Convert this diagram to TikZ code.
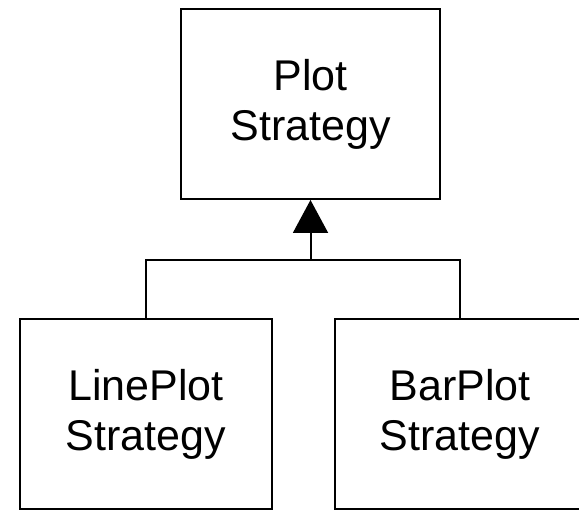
\documentclass[tikz,border=0pt]{standalone}
\usepackage{fontspec}
\setmainfont{Liberation Sans}
\usetikzlibrary{arrows.meta}
\begin{document}
\begin{tikzpicture}[x=1pt,y=-1pt,
  classbox/.style={draw=black, line width=2pt, fill=white, inner sep=0pt,
    minimum height=190pt, align=center,
    font=\fontsize{43}{50}\selectfont},
  link/.style={draw=black, line width=2pt}]
  \useasboundingbox (0,0) rectangle (579,510);
  \clip (0,0) rectangle (579,510);
  % parent strategy
  \node[classbox, minimum width=259pt] (plot) at (310.5,104) {Plot\\Strategy};
  % concrete strategies
  \node[classbox, minimum width=252pt] (line) at (146,414) {LinePlot\\Strategy};
  \node[classbox, minimum width=250pt] (bar) at (460,414) {BarPlot\\Strategy};
  % inheritance tree
  \coordinate (join) at (310.5,260);
  \draw[link] (line.north) |- (join);
  \draw[link] (bar.north) |- (join);
  \draw[link, -{Triangle[length=33pt,width=35pt]}] (join) -- (plot.south);
\end{tikzpicture}
\end{document}
